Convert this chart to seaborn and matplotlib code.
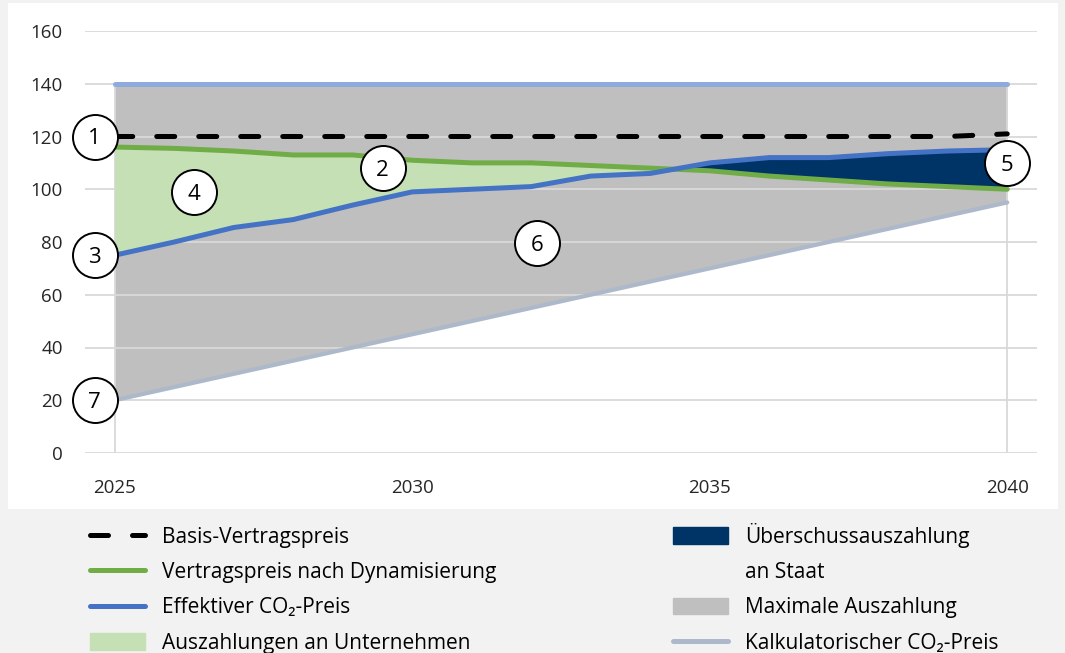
import matplotlib
matplotlib.use("Agg")
import matplotlib.pyplot as plt
import matplotlib.patches as mpatches
from matplotlib.lines import Line2D
import seaborn as sns

# values
years = [2025, 2026, 2027, 2028, 2029, 2030, 2031, 2032,
         2033, 2034, 2035, 2036, 2037, 2038, 2039, 2040]
basis_preis = [120, 120, 120, 120, 120, 120, 120, 120,
               120, 120, 120, 120, 120, 120, 120, 121]
dyn_preis = [116, 115.5, 114.5, 113, 113, 111, 110, 110,
             109, 108, 107, 105, 103.5, 102, 101, 100]
eff_preis = [75, 80, 85.5, 88.5, 94, 99, 100, 101,
             105, 106, 110, 112, 112, 113.5, 114.5, 115]
kalk_preis = [20, 25, 30, 35, 40, 45, 50, 55,
              60, 65, 70, 75, 80, 85, 90, 95]
max_preis = [140, 140, 140, 140, 140, 140, 140, 140,
             140, 140, 140, 140, 140, 140, 140, 140]

marker_labels = ["1", "2", "3", "4", "5", "6", "7"]
marker_x = [2024.66, 2029.5, 2024.66, 2026.33, 2040, 2032.1, 2024.66]
marker_y = [120, 108, 75, 99, 110, 79.5, 20]

x_ticks = [2025, 2030, 2035, 2040]
y_ticks = [0, 20, 40, 60, 80, 100, 120, 140, 160]

BLACK = "#000000"
GREEN = "#70ad47"
BLUE = "#4472c4"
LIGHT_GREEN = "#c5e0b4"
NAVY = "#003366"
GRAY = "#bfbfbf"
TOP_BLUE = "#8faadc"
KALK = "#adb9ca"
TEXT = "#262626"

sns.set_theme(style="white")
plt.rcParams["font.family"] = ["Open Sans", "DejaVu Sans"]

fig = plt.figure(figsize=(10.65, 6.53), dpi=100)
fig.patch.set_facecolor("#f2f2f2")
fig.add_artist(mpatches.Rectangle((8 / 1065, 1 - 509 / 653), 1050 / 1065, 506 / 653,
                                  transform=fig.transFigure, facecolor="white",
                                  edgecolor="none", zorder=0))

ax = fig.add_axes([85 / 1065, 1 - 453 / 653, 952 / 1065, 422 / 653])
ax.set_facecolor("none")

# areas
ax.fill_between(years, kalk_preis, max_preis, color=GRAY, lw=0, zorder=1)
ax.fill_between(years, eff_preis, dyn_preis, where=[d >= e for d, e in zip(dyn_preis, eff_preis)],
                interpolate=True, color=LIGHT_GREEN, lw=0, zorder=2.5)
ax.fill_between(years, dyn_preis, eff_preis, where=[e >= d for d, e in zip(dyn_preis, eff_preis)],
                interpolate=True, color=NAVY, lw=0, zorder=2.5)

for y in y_ticks:
    ax.axhline(y, color="#d9d9d9", lw=1.3, zorder=2)
ax.vlines([years[0], years[-1]], 0, max_preis[0], color="#d9d9d9", lw=1.3, zorder=2)

# lines
sns.lineplot(x=years, y=kalk_preis, color=KALK, lw=3.0, ax=ax, zorder=3,
             solid_capstyle="round")
sns.lineplot(x=years, y=max_preis, color=TOP_BLUE, lw=3.6, ax=ax, zorder=3,
             solid_capstyle="round")
sns.lineplot(x=years, y=dyn_preis, color=GREEN, lw=3.6, ax=ax, zorder=4,
             solid_capstyle="round")
sns.lineplot(x=years, y=eff_preis, color=BLUE, lw=3.6, ax=ax, zorder=5,
             solid_capstyle="round")
sns.lineplot(x=years, y=basis_preis, color=BLACK, lw=3.6, ax=ax, zorder=6,
             dashes=False)
basis_line = ax.get_lines()[-1]
basis_line.set_dashes([3.6, 4.8])
basis_line.set_dash_capstyle("round")

# numbered circles
ax.scatter(marker_x, marker_y, s=1050, facecolor="white", edgecolor="black",
           linewidth=1.4, zorder=8, clip_on=False)
for lab, mx, my in zip(marker_labels, marker_x, marker_y):
    ax.text(mx, my, lab, ha="center", va="center_baseline", fontsize=16,
            color="black", zorder=9)

ax.set_xlim(2024.5, 2040.5)
ax.set_ylim(0, 160)
ax.set_xticks(x_ticks)
ax.set_yticks(y_ticks)
ax.tick_params(axis="both", length=0, labelsize=13.5, labelcolor=TEXT)
ax.tick_params(axis="y", pad=16)
ax.tick_params(axis="x", pad=19)
for s in ax.spines.values():
    s.set_visible(False)

# legend
left_handles = [
    Line2D([], [], color=BLACK, lw=3.6, dashes=[3.6, 4.8], dash_capstyle="round"),
    Line2D([], [], color=GREEN, lw=3.6),
    Line2D([], [], color=BLUE, lw=3.6),
    mpatches.Patch(color=LIGHT_GREEN),
]
left_labels = ["Basis-Vertragspreis", "Vertragspreis nach Dynamisierung",
               "Effektiver CO₂-Preis", "Auszahlungen an Unternehmen"]
right_handles = [
    mpatches.Patch(color=NAVY),
    Line2D([], [], color="none"),
    mpatches.Patch(color=GRAY),
    Line2D([], [], color=KALK, lw=3.6),
]
right_labels = ["Überschussauszahlung", "an Staat", "Maximale Auszahlung",
                "Kalkulatorischer CO₂-Preis"]

leg_kw = dict(frameon=False, fontsize=15, handlelength=2.65, handleheight=0.85,
              handletextpad=0.8, labelspacing=0.68, borderpad=0, borderaxespad=0,
              loc="upper left", labelcolor="black")
leg1 = fig.legend(left_handles, left_labels, bbox_to_anchor=(90 / 1065, 1 - 527 / 653),
                  **leg_kw)
leg2 = fig.legend(right_handles, right_labels, bbox_to_anchor=(673 / 1065, 1 - 523 / 653),
                  **leg_kw)

fig.savefig("out.png", dpi=100, facecolor=fig.get_facecolor())
